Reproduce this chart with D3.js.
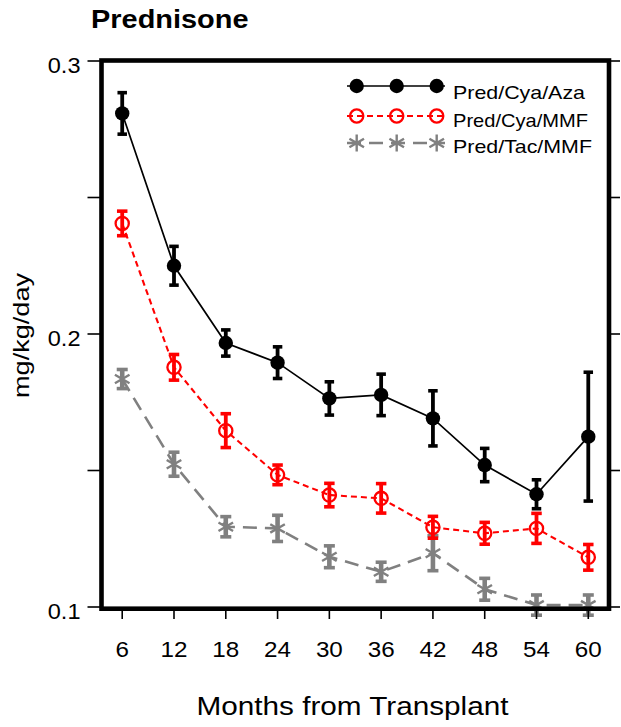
<!DOCTYPE html>
<html><head><meta charset="utf-8">
<script src="https://cdn.jsdelivr.net/npm/d3@7"></script>
<style>
html,body{margin:0;padding:0;background:#fff;}
svg{display:block;font-family:"Liberation Sans",Arial,sans-serif;}
</style></head>
<body>
<svg id="chart" width="621" height="727"></svg>
<script>
const months = [6, 12, 18, 24, 30, 36, 42, 48, 54, 60];
const xTickLabels = ["6","12","18","24","30","36","42","48","54","60"];
const yMajorTicks = [0.1, 0.2, 0.3];
const yMinorTicks = [0.15, 0.25];
const seriesNames = ["Pred/Cya/Aza", "Pred/Cya/MMF", "Pred/Tac/MMF"];
const cyaAza    = [0.2808, 0.2250, 0.1967, 0.1895, 0.1764, 0.1777, 0.1691, 0.1520, 0.1413, 0.1624];
const cyaAzaErr = [0.0076, 0.0071, 0.0048, 0.0058, 0.0061, 0.0076, 0.0101, 0.0061, 0.0053, 0.0236];
const cyaMmf    = [0.2405, 0.1878, 0.1646, 0.1484, 0.1410, 0.1398, 0.1292, 0.1270, 0.1288, 0.1182];
const cyaMmfErr = [0.0045, 0.0047, 0.0062, 0.0036, 0.0043, 0.0054, 0.0040, 0.0040, 0.0055, 0.0047];
const tacMmf    = [0.1835, 0.1523, 0.1294, 0.1288, 0.1184, 0.1129, 0.1197, 0.1065, 0.1007, 0.1007];
const tacMmfErr = [0.0035, 0.0044, 0.0037, 0.0048, 0.0040, 0.0035, 0.0064, 0.0040, 0.0037, 0.0037];

const svg = d3.select("#chart");
const L = 101.5, R = 609, T = 60.5, B = 608.7;
const x = d3.scaleLinear().domain([3.6, 62.4]).range([L, R]);
const y = d3.scaleLinear().domain([0.1, 0.3]).range([607, 61]);

const styles = [
  {values: cyaAza, err: cyaAzaErr, color: "#000", dash: null, width: 1.7, marker: "dot", capW: 9.5, errW: 3.8},
  {values: cyaMmf, err: cyaMmfErr, color: "#ff0000", dash: "6,4", width: 2.1, marker: "circle", capW: 10.5, errW: 3.8},
  {values: tacMmf, err: tacMmfErr, color: "#808080", dash: "14,8", width: 2.6, marker: "star", capW: 11, errW: 4.6}
];

function drawMarker(g, kind, color, cx, cy) {
  if (kind === "dot") {
    g.append("circle").attr("cx", cx).attr("cy", cy).attr("r", 7.2).attr("fill", color);
  } else if (kind === "circle") {
    g.append("circle").attr("cx", cx).attr("cy", cy).attr("r", 6.6)
      .attr("fill", "none").attr("stroke", color).attr("stroke-width", 2.3);
  } else {
    g.append("path").attr("transform", `translate(${cx},${cy})`)
      .attr("d", d3.symbol(d3.symbolAsterisk, 200)())
      .attr("fill", "none").attr("stroke", color).attr("stroke-width", 2.4);
  }
}

// draw series (gray first, black last)
[2, 1, 0].forEach(i => {
  const s = styles[i];
  const g = svg.append("g");
  const pts = months.map((m, k) => [x(m), y(s.values[k])]);
  g.append("path").attr("d", d3.line()(pts)).attr("fill", "none")
    .attr("stroke", s.color).attr("stroke-width", s.width)
    .attr("stroke-dasharray", s.dash);
  months.forEach((m, k) => {
    const cx = x(m), y1 = y(s.values[k] + s.err[k]), y2 = y(s.values[k] - s.err[k]);
    g.append("line").attr("x1", cx).attr("x2", cx).attr("y1", y1).attr("y2", y2)
      .attr("stroke", s.color).attr("stroke-width", s.errW);
    [y1, y2].forEach(yy => g.append("line").attr("x1", cx - s.capW / 2).attr("x2", cx + s.capW / 2)
      .attr("y1", yy).attr("y2", yy).attr("stroke", s.color).attr("stroke-width", 3.6));
    drawMarker(g, s.marker, s.color, cx, y(s.values[k]));
  });
});

// frame
svg.append("rect").attr("x", L).attr("y", T).attr("width", R - L).attr("height", B - T)
  .attr("fill", "none").attr("stroke", "#000").attr("stroke-width", 4.6);

// y ticks left and right
yMajorTicks.concat(yMinorTicks).forEach(v => {
  svg.append("line").attr("x1", 87.5).attr("x2", L).attr("y1", y(v)).attr("y2", y(v))
    .attr("stroke", "#000").attr("stroke-width", 1.6);
  svg.append("line").attr("x1", R).attr("x2", 620).attr("y1", y(v)).attr("y2", y(v))
    .attr("stroke", "#000").attr("stroke-width", 1.6);
});
yMajorTicks.forEach(v => {
  svg.append("text").attr("transform", `translate(80.5,${y(v) + 11.8}) scale(1.07,1)`)
    .attr("text-anchor", "end").attr("font-size", 22).text(d3.format(".1f")(v));
});

// x ticks
months.forEach((m, k) => {
  svg.append("line").attr("x1", x(m)).attr("x2", x(m)).attr("y1", B).attr("y2", 619)
    .attr("stroke", "#000").attr("stroke-width", 1.6);
  svg.append("text").attr("transform", `translate(${x(m)},657) scale(1.1,1)`)
    .attr("text-anchor", "middle").attr("font-size", 22).text(xTickLabels[k]);
});

// axis titles
svg.append("text").attr("x", 352.5).attr("y", 715).attr("text-anchor", "middle")
  .attr("font-size", 25).attr("textLength", 312).attr("lengthAdjust", "spacingAndGlyphs")
  .text("Months from Transplant");
svg.append("text").attr("transform", "translate(29,335.5) rotate(-90)").attr("text-anchor", "middle")
  .attr("font-size", 21.5).attr("textLength", 125).attr("lengthAdjust", "spacingAndGlyphs")
  .text("mg/kg/day");

// title
svg.append("text").attr("x", 91).attr("y", 28.3).attr("font-size", 25.5).attr("font-weight", "bold")
  .attr("textLength", 157.5).attr("lengthAdjust", "spacingAndGlyphs").text("Prednisone");

// legend
const legRows = [86, 116, 143];
const legText = [99, 126.7, 153];
const legLen = [132, 135, 139];
styles.forEach((s, i) => {
  const g = svg.append("g");
  const yy = legRows[i];
  g.append("line").attr("x1", 347).attr("x2", 445).attr("y1", yy).attr("y2", yy)
    .attr("stroke", s.color).attr("stroke-width", s.width).attr("stroke-dasharray", s.dash);
  [356.7, 396.7, 436.7].forEach(cx => drawMarker(g, s.marker, s.color, cx, yy));
  g.append("text").attr("x", 453).attr("y", legText[i]).attr("font-size", 19)
    .attr("textLength", legLen[i]).attr("lengthAdjust", "spacingAndGlyphs").text(seriesNames[i]);
});
</script>
</body></html>
